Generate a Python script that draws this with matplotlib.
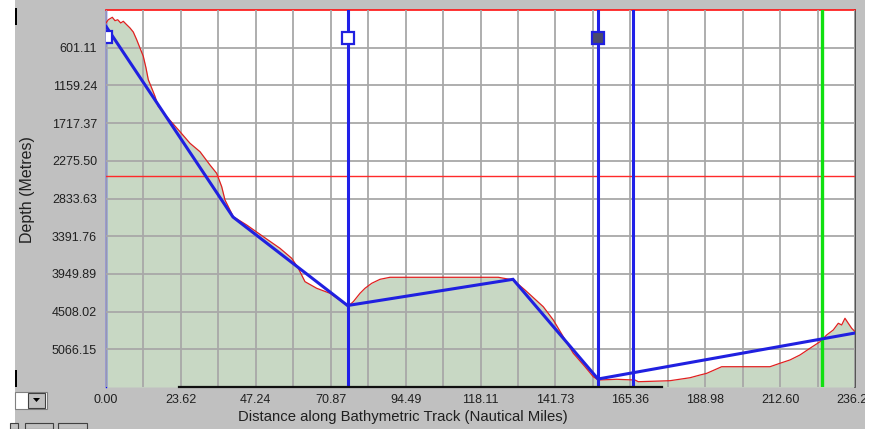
import numpy as np
import matplotlib
matplotlib.use("Agg")
import matplotlib.pyplot as plt
from matplotlib.patches import Rectangle, Polygon

plt.rcParams['font.family'] = ['Liberation Sans', 'DejaVu Sans']

# bathymetric profile along the track
dist = [0.0, 0.73, 1.99, 2.84, 3.69, 4.64, 5.46, 6.53, 7.57, 8.61, 9.68, 10.72,
        11.76, 12.62, 13.34, 14.41, 15.45, 16.49, 18.61, 23.34, 26.49, 29.65,
        32.80, 34.91, 36.49, 37.53, 40.15, 44.37, 49.61, 54.87, 58.57, 60.65,
        62.76, 66.45, 70.64, 74.84, 76.42, 77.99, 80.11, 81.68, 83.80, 86.41,
        89.57, 123.72, 128.45, 132.14, 137.91, 141.07, 144.22, 147.38, 151.07,
        153.68, 155.26, 161.06, 166.83, 167.87, 177.87, 184.18, 187.33, 189.45,
        194.18, 209.41, 212.56, 215.71, 218.87, 222.02, 225.18, 227.29, 229.37,
        230.95, 232.02, 233.06, 234.10, 235.18, 236.22]
depth = [235, 187, 151, 201, 187, 235, 210, 261, 309, 369, 483, 606,
         728, 902, 1075, 1198, 1321, 1469, 1593, 1845, 2016, 2141,
         2338, 2461, 2659, 2856, 3103, 3226, 3399, 3571, 3719, 3867,
         4065, 4163, 4237, 4376, 4425, 4361, 4237, 4163, 4089, 4030,
         4000, 4000, 4040, 4188, 4436, 4632, 4880, 5125, 5324,
         5472, 5521, 5510, 5521, 5546, 5531, 5487, 5447, 5422,
         5324, 5324, 5273, 5224, 5150, 5051, 4954, 4854, 4780,
         4681, 4706, 4607, 4681, 4755, 4805]

# planned route waypoints
route_dist = [0.0, 40.05, 76.17, 128.36, 155.17, 236.22]
route_depth = [285, 3108, 4418, 4030, 5506, 4825]

# cursors and reference level
cursor_blue = [76.17, 155.17, 166.10]
cursor_green = 225.8
ref_depth = 2505
marker_depth = 457

x_max = 236.22
y_top, y_bottom = 42.98, 5624.28
xtick_labels = ['0.00', '23.62', '47.24', '70.87', '94.49', '118.11', '141.73',
                '165.36', '188.98', '212.60', '236.22']
ytick_values = [601.11, 1159.24, 1717.37, 2275.50, 2833.63, 3391.76,
                3949.89, 4508.02, 5066.15]

W, H = 872, 429
fig = plt.figure(figsize=(W / 100, H / 100), dpi=100, facecolor='#c0c0c0')
ax = fig.add_axes([106 / W, 1 - 387 / H, 749 / W, 377 / H])
ax.set_facecolor('white')

ax.fill_between(dist, depth, y_bottom, color='#c8d8c4', lw=0, zorder=1)
ax.plot(dist, depth, color='#e02020', lw=0.9, zorder=3)
ax.axhline(ref_depth, color='#ff2a2a', lw=1.0, zorder=3)

ax.plot(route_dist, route_depth, color='#2020e0', lw=2.2, zorder=5,
        solid_joinstyle='miter')
for cx in cursor_blue:
    ax.axvline(cx, color='#2020e8', lw=2.2, zorder=4)
ax.axvline(cursor_green, color='#10e010', lw=2.4, zorder=4)

ax.plot([0.0], [marker_depth - 15], marker='s', ms=8, mfc='white', mec='#2020e0',
        mew=1.6, zorder=6, clip_on=True)
ax.plot([cursor_blue[0]], [marker_depth], marker='s', ms=8, mfc='white',
        mec='#2020e0', mew=1.6, zorder=6)
ax.plot([cursor_blue[1]], [marker_depth], marker='s', ms=8, mfc='#4a4a6a',
        mec='#2020e0', mew=1.6, zorder=6)

ax.set_xlim(0, x_max)
ax.set_ylim(y_bottom, y_top)
step = x_max / 10
ax.set_xticks(np.arange(11) * step)
ax.set_xticklabels(xtick_labels)
ax.set_xticks(np.arange(10) * step + step / 2, minor=True)
ax.set_yticks(ytick_values)
ax.set_yticklabels(['%.2f' % v for v in ytick_values])
ax.grid(True, which='both', color='#a8a8a8', lw=1.3)
ax.set_axisbelow(False)
for gl in ax.get_xgridlines() + ax.get_ygridlines() + ax.xaxis.get_minorticklines():
    gl.set_zorder(2)
ax.tick_params(which='both', length=0, labelsize=9, labelcolor='#202020')
ax.tick_params(axis='x', pad=5)
ax.tick_params(axis='y', pad=6.5)

ax.spines['left'].set_color('#0000ff')
ax.spines['left'].set_linewidth(1.0)
ax.spines['top'].set_color('#ff1010')
ax.spines['top'].set_linewidth(1.2)
ax.spines['right'].set_color('#404040')
ax.spines['right'].set_linewidth(1.2)
ax.spines['bottom'].set_visible(False)
ax.axhline(y_bottom, xmin=0.0975, xmax=0.742, color='#101010', lw=1.6,
           clip_on=False, zorder=6)

ax.set_xlabel('Distance along Bathymetric Track (Nautical Miles)', fontsize=10.7,
              color='#202020')
ax.xaxis.set_label_coords(0.3965, -0.062)
ax.set_ylabel('Depth (Metres)', fontsize=11.5, color='#202020')
ax.yaxis.set_label_coords(-0.0948, 0.525)

# window chrome around the chart
fig.patches.append(Rectangle((0, 0), 15 / W, 1, transform=fig.transFigure,
                             fc='white', ec='none', zorder=10))
fig.patches.append(Rectangle((865 / W, 0), 7 / W, 1, transform=fig.transFigure,
                             fc='white', ec='none', zorder=10))
fig.patches.append(Rectangle((15 / W, 1 - 25 / H), 2 / W, 17 / H,
                             transform=fig.transFigure, fc='black', ec='none', zorder=11))
fig.patches.append(Rectangle((15 / W, 1 - 387 / H), 2 / W, 17 / H,
                             transform=fig.transFigure, fc='black', ec='none', zorder=11))
fig.patches.append(Rectangle((15 / W, 1 - 409 / H), 32 / W, 17 / H,
                             transform=fig.transFigure, fc='white', ec='#808080',
                             lw=0.8, zorder=11))
fig.patches.append(Rectangle((28 / W, 1 - 408 / H), 17 / W, 15 / H,
                             transform=fig.transFigure, fc='#c0c0c0', ec='#404040',
                             lw=0.8, zorder=12))
fig.patches.append(Polygon([(33 / W, 1 - 398 / H), (40 / W, 1 - 398 / H),
                            (36.5 / W, 1 - 402 / H)], closed=True,
                           transform=fig.transFigure, fc='black', ec='none', zorder=13))
for bx, bw in [(10, 8), (25, 28), (58, 29)]:
    fig.patches.append(Rectangle((bx / W, 0), bw / W, 6 / H, transform=fig.transFigure,
                                 fc='#c0c0c0', ec='#404040', lw=0.8, zorder=11))

fig.savefig('out.png', dpi=100, facecolor=fig.get_facecolor())
